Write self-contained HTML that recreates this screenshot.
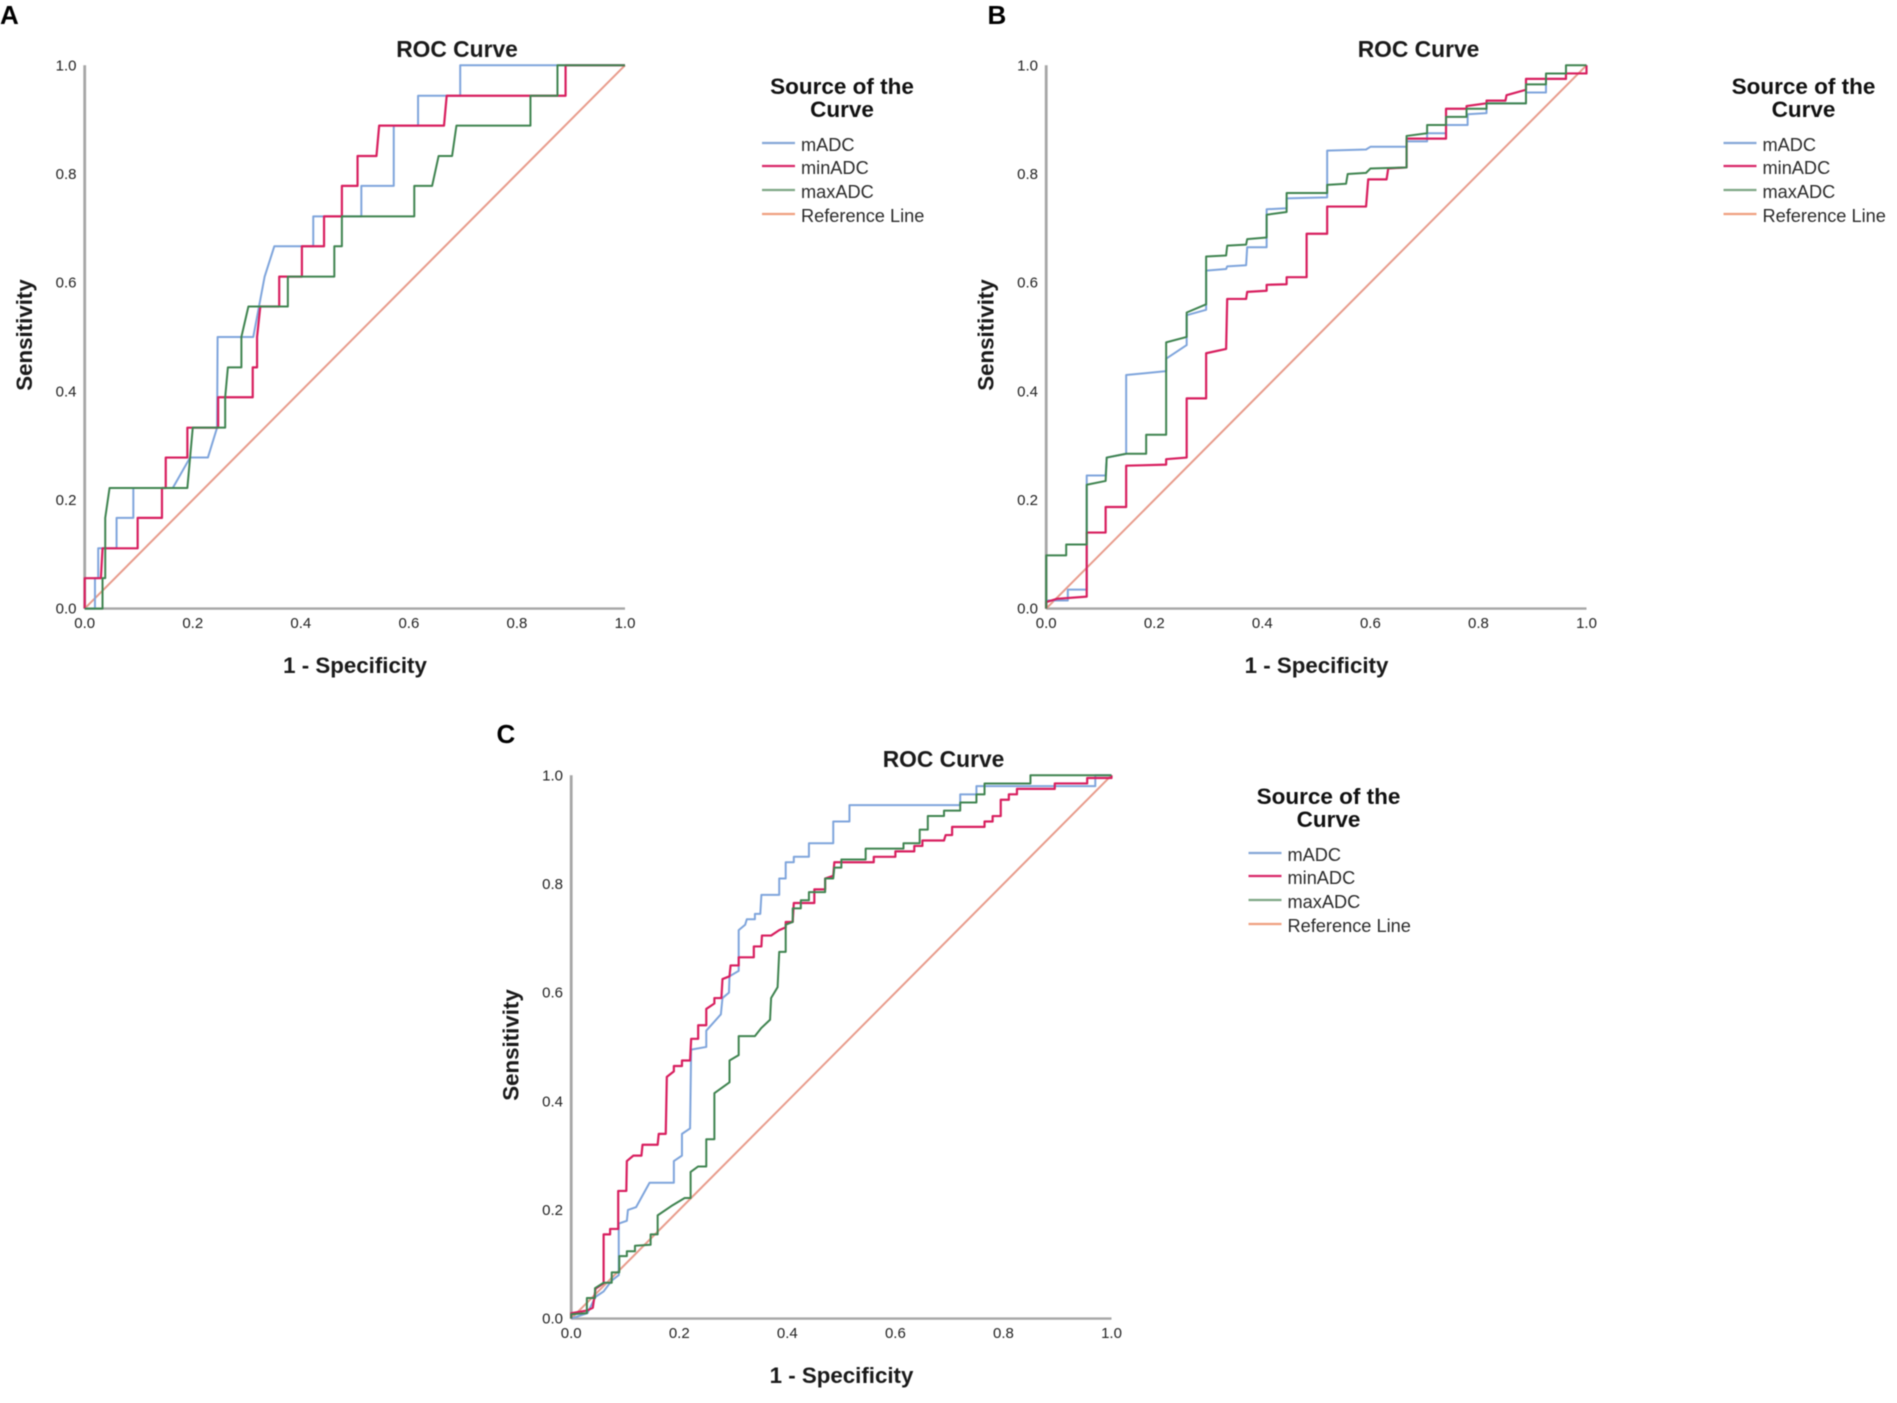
<!DOCTYPE html>
<html lang="en">
<head>
<meta charset="utf-8">
<title>ROC Curves</title>
<style>
  html, body { margin: 0; padding: 0; background: #fff; }
  #figure { display: block; width: 1897px; height: 1403px; filter: blur(0.55px); font-family: "Liberation Sans", sans-serif; }
  .panel-letter { font-size: 26px; font-weight: 700; fill: #000; }
  .chart-title { font-size: 22.8px; font-weight: 700; fill: #1a1a1a; text-anchor: middle; }
  .axis-title { font-size: 22.3px; font-weight: 700; fill: #1a1a1a; text-anchor: middle; }
  .legend-title { font-size: 22.5px; font-weight: 700; fill: #111; text-anchor: middle; }
  .legend-label { font-size: 18.2px; fill: #2b2b2b; }
  .tick-label { font-size: 15px; fill: #222; }
</style>
</head>
<body>
<svg id="figure" xmlns="http://www.w3.org/2000/svg" width="1897" height="1403" viewBox="0 0 1897 1403">
  <rect width="1897" height="1403" fill="#ffffff"/>

  <g id="panel-a">
    <text class="panel-letter" x="0" y="24">A</text>
    <text class="chart-title" x="457" y="57">ROC Curve</text>
    <text class="axis-title" x="355" y="673">1 - Specificity</text>
    <text class="axis-title" transform="translate(32,335) rotate(-90)">Sensitivity</text>
    <g>
      <text class="legend-title" x="842" y="94">Source of the</text>
      <text class="legend-title" x="842" y="117">Curve</text>
      <line x1="762" x2="795" y1="143" y2="143" stroke="#86a8d8" stroke-width="2.2"/>
      <text class="legend-label" x="801" y="151">mADC</text>
      <line x1="762" x2="795" y1="166" y2="166" stroke="#d9286a" stroke-width="2.2"/>
      <text class="legend-label" x="801" y="174">minADC</text>
      <line x1="762" x2="795" y1="190" y2="190" stroke="#7fa886" stroke-width="2.2"/>
      <text class="legend-label" x="801" y="198">maxADC</text>
      <line x1="762" x2="795" y1="214" y2="214" stroke="#f0a080" stroke-width="2.2"/>
      <text class="legend-label" x="801" y="222">Reference Line</text>
    </g>
  </g>

  <g id="panel-b" transform="translate(961.5,0)">
    <text class="panel-letter" x="26" y="24">B</text>
    <text class="chart-title" x="457" y="57">ROC Curve</text>
    <text class="axis-title" x="355" y="673">1 - Specificity</text>
    <text class="axis-title" transform="translate(32,335) rotate(-90)">Sensitivity</text>
    <g>
      <text class="legend-title" x="842" y="94">Source of the</text>
      <text class="legend-title" x="842" y="117">Curve</text>
      <line x1="762" x2="795" y1="143" y2="143" stroke="#86a8d8" stroke-width="2.2"/>
      <text class="legend-label" x="801" y="151">mADC</text>
      <line x1="762" x2="795" y1="166" y2="166" stroke="#d9286a" stroke-width="2.2"/>
      <text class="legend-label" x="801" y="174">minADC</text>
      <line x1="762" x2="795" y1="190" y2="190" stroke="#7fa886" stroke-width="2.2"/>
      <text class="legend-label" x="801" y="198">maxADC</text>
      <line x1="762" x2="795" y1="214" y2="214" stroke="#f0a080" stroke-width="2.2"/>
      <text class="legend-label" x="801" y="222">Reference Line</text>
    </g>
  </g>

  <g id="panel-c" transform="translate(486.5,710)">
    <text class="panel-letter" x="10" y="33">C</text>
    <text class="chart-title" x="457" y="57">ROC Curve</text>
    <text class="axis-title" x="355" y="673">1 - Specificity</text>
    <text class="axis-title" transform="translate(32,335) rotate(-90)">Sensitivity</text>
    <g>
      <text class="legend-title" x="842" y="94">Source of the</text>
      <text class="legend-title" x="842" y="117">Curve</text>
      <line x1="762" x2="795" y1="143" y2="143" stroke="#86a8d8" stroke-width="2.2"/>
      <text class="legend-label" x="801" y="151">mADC</text>
      <line x1="762" x2="795" y1="166" y2="166" stroke="#d9286a" stroke-width="2.2"/>
      <text class="legend-label" x="801" y="174">minADC</text>
      <line x1="762" x2="795" y1="190" y2="190" stroke="#7fa886" stroke-width="2.2"/>
      <text class="legend-label" x="801" y="198">maxADC</text>
      <line x1="762" x2="795" y1="214" y2="214" stroke="#f0a080" stroke-width="2.2"/>
      <text class="legend-label" x="801" y="222">Reference Line</text>
    </g>
  </g>
</svg>

<script>
const tickValues = [0, 0.2, 0.4, 0.6, 0.8, 1];
const tickLabels = ["0.0", "0.2", "0.4", "0.6", "0.8", "1.0"];
const referenceLine = [[0,0],[1,1]];

const panelAmADC = [[0,0],[.019,0],[.019,.056],[.025,.056],[.025,.111],[.059,.111],[.059,.167],[.09,.167],[.09,.222],[.163,.222],[.195,.278],[.228,.278],[.245,.333],[.246,.5],[.312,.5],[.333,.611],[.351,.667],[.423,.667],[.423,.722],[.512,.722],[.512,.778],[.572,.778],[.572,.889],[.617,.889],[.617,.944],[.695,.944],[.695,1],[1,1]];
const panelAminADC = [[0,0],[0,.056],[.03,.056],[.033,.111],[.098,.111],[.098,.167],[.143,.167],[.143,.222],[.15,.222],[.15,.278],[.19,.278],[.19,.333],[.247,.333],[.247,.389],[.311,.389],[.311,.444],[.319,.444],[.319,.5],[.325,.556],[.36,.556],[.36,.611],[.402,.611],[.402,.667],[.443,.667],[.443,.722],[.476,.722],[.476,.778],[.505,.778],[.505,.833],[.54,.833],[.545,.889],[.665,.889],[.67,.944],[.89,.944],[.89,1],[1,1]];
const panelAmaxADC = [[0,0],[.033,0],[.033,.056],[.038,.056],[.038,.167],[.046,.222],[.19,.222],[.2,.333],[.26,.333],[.26,.389],[.265,.444],[.29,.444],[.29,.5],[.303,.556],[.376,.556],[.376,.611],[.462,.611],[.462,.667],[.476,.667],[.476,.722],[.61,.722],[.61,.778],[.643,.778],[.655,.833],[.68,.833],[.688,.889],[.825,.889],[.825,.944],[.875,.944],[.875,1],[1,1]];

const panelBmADC = [[0,0],[0,.015],[.04,.015],[.04,.035],[.075,.035],[.075,.245],[.11,.245],[.112,.278],[.148,.285],[.148,.43],[.222,.437],[.222,.46],[.26,.485],[.26,.54],[.296,.55],[.296,.622],[.333,.625],[.335,.63],[.37,.632],[.372,.665],[.408,.665],[.408,.735],[.445,.737],[.445,.755],[.52,.757],[.52,.843],[.592,.845],[.6,.85],[.667,.85],[.667,.86],[.705,.86],[.705,.875],[.74,.875],[.74,.89],[.78,.89],[.78,.91],[.815,.912],[.815,.93],[.888,.93],[.888,.95],[.925,.95],[.925,.975],[.962,.975],[.962,.985],[1,.985],[1,1]];
const panelBminADC = [[0,0],[0,.012],[.02,.018],[.075,.022],[.075,.14],[.11,.14],[.11,.187],[.148,.187],[.148,.263],[.222,.265],[.222,.275],[.26,.278],[.26,.387],[.296,.387],[.296,.47],[.333,.478],[.335,.57],[.37,.57],[.372,.583],[.408,.585],[.408,.596],[.445,.597],[.445,.61],[.482,.61],[.482,.69],[.52,.69],[.52,.74],[.592,.74],[.596,.79],[.63,.79],[.633,.81],[.667,.812],[.667,.865],[.74,.865],[.74,.92],[.778,.92],[.778,.925],[.815,.93],[.815,.935],[.85,.935],[.852,.945],[.888,.955],[.888,.975],[.962,.975],[.962,.985],[1,.985],[1,1]];
const panelBmaxADC = [[0,0],[0,.098],[.037,.098],[.037,.118],[.075,.118],[.075,.228],[.11,.235],[.112,.278],[.148,.285],[.185,.285],[.185,.32],[.222,.32],[.222,.49],[.26,.5],[.26,.545],[.296,.56],[.296,.648],[.333,.65],[.335,.668],[.37,.67],[.372,.68],[.408,.683],[.408,.725],[.445,.73],[.445,.765],[.52,.765],[.52,.78],[.555,.782],[.558,.8],[.592,.802],[.6,.81],[.667,.812],[.667,.87],[.705,.875],[.705,.89],[.74,.89],[.74,.905],[.778,.905],[.778,.92],[.815,.92],[.815,.93],[.888,.93],[.888,.965],[.925,.965],[.925,.985],[.962,.985],[.962,1],[1,1]];

const panelCmADC = [[0,0],[.03,.01],[.045,.04],[.06,.05],[.075,.07],[.088,.08],[.088,.175],[.103,.18],[.105,.2],[.12,.205],[.145,.25],[.19,.25],[.19,.29],[.205,.3],[.205,.34],[.22,.35],[.222,.495],[.25,.5],[.25,.53],[.277,.56],[.28,.59],[.292,.6],[.293,.63],[.31,.64],[.31,.715],[.322,.725],[.325,.735],[.34,.735],[.34,.745],[.35,.745],[.352,.78],[.385,.78],[.385,.81],[.397,.81],[.397,.84],[.412,.84],[.412,.85],[.44,.85],[.44,.875],[.485,.875],[.485,.915],[.515,.915],[.515,.945],[.72,.945],[.72,.965],[.75,.965],[.75,.98],[.97,.98],[.97,1],[1,1]];
const panelCminADC = [[0,0],[0,.01],[.03,.015],[.04,.02],[.045,.055],[.06,.065],[.06,.155],[.072,.155],[.072,.165],[.087,.165],[.087,.235],[.102,.235],[.103,.29],[.115,.3],[.13,.3],[.132,.32],[.16,.32],[.162,.34],[.175,.34],[.177,.445],[.19,.455],[.19,.465],[.205,.465],[.205,.475],[.22,.475],[.222,.515],[.235,.515],[.235,.54],[.25,.54],[.25,.57],[.265,.58],[.265,.59],[.278,.59],[.28,.625],[.293,.63],[.295,.65],[.31,.65],[.31,.665],[.338,.665],[.338,.685],[.352,.685],[.353,.705],[.37,.705],[.385,.715],[.397,.72],[.397,.73],[.41,.73],[.412,.765],[.45,.765],[.45,.79],[.47,.79],[.47,.81],[.485,.815],[.487,.84],[.56,.84],[.56,.85],[.6,.85],[.6,.86],[.635,.86],[.635,.87],[.65,.87],[.65,.88],[.69,.88],[.693,.89],[.705,.89],[.705,.905],[.765,.905],[.765,.915],[.78,.915],[.78,.925],[.795,.925],[.795,.955],[.81,.955],[.81,.965],[.825,.965],[.825,.975],[.895,.975],[.895,.985],[.955,.985],[.955,.995],[1,.995],[1,1]];
const panelCmaxADC = [[0,0],[0,.008],[.029,.01],[.029,.038],[.044,.038],[.044,.056],[.06,.066],[.075,.066],[.075,.085],[.089,.085],[.089,.115],[.103,.115],[.103,.124],[.118,.124],[.118,.134],[.147,.136],[.147,.155],[.16,.155],[.16,.19],[.185,.207],[.21,.222],[.221,.222],[.221,.27],[.235,.28],[.25,.28],[.25,.33],[.265,.33],[.265,.415],[.293,.435],[.293,.475],[.31,.485],[.31,.52],[.34,.52],[.352,.535],[.368,.55],[.37,.59],[.382,.61],[.385,.675],[.397,.675],[.397,.725],[.41,.73],[.41,.755],[.425,.755],[.425,.77],[.44,.77],[.44,.785],[.47,.785],[.47,.81],[.485,.81],[.487,.83],[.5,.83],[.5,.845],[.545,.845],[.545,.865],[.615,.865],[.615,.875],[.645,.875],[.645,.9],[.66,.9],[.66,.925],[.69,.925],[.69,.935],[.72,.935],[.72,.95],[.75,.95],[.75,.965],[.765,.965],[.765,.985],[.85,.985],[.85,1],[1,1]];

const SVG_NS = "http://www.w3.org/2000/svg";
const plotLeft = 84.7, plotWidth = 540.3, plotBottom = 608.6, plotHeight = 543.3;
function xScale(v) { return plotLeft + v * plotWidth; }
function yScale(v) { return plotBottom - v * plotHeight; }

function drawAxes(group) {
  const yAxis = document.createElementNS(SVG_NS, "line");
  yAxis.setAttribute("x1", xScale(0));
  yAxis.setAttribute("x2", xScale(0));
  yAxis.setAttribute("y1", yScale(1));
  yAxis.setAttribute("y2", yScale(0));
  yAxis.setAttribute("stroke", "#a6a6a6");
  yAxis.setAttribute("stroke-width", "2.8");
  
  
  group.appendChild(yAxis);

  const xAxis = document.createElementNS(SVG_NS, "line");
  xAxis.setAttribute("x1", xScale(0));
  xAxis.setAttribute("x2", xScale(1));
  xAxis.setAttribute("y1", yScale(0));
  xAxis.setAttribute("y2", yScale(0));
  xAxis.setAttribute("stroke", "#a6a6a6");
  xAxis.setAttribute("stroke-width", "2.4");
  
  
  group.appendChild(xAxis);

  tickValues.forEach(function (value, i) {
    const xLabel = document.createElementNS(SVG_NS, "text");
    xLabel.setAttribute("class", "tick-label");
    xLabel.setAttribute("x", xScale(value));
    xLabel.setAttribute("y", 628);
    xLabel.setAttribute("text-anchor", "middle");
    
    
    xLabel.textContent = tickLabels[i];
    group.appendChild(xLabel);

    const yLabel = document.createElementNS(SVG_NS, "text");
    yLabel.setAttribute("class", "tick-label");
    yLabel.setAttribute("x", 76.5);
    yLabel.setAttribute("y", yScale(value) + 5);
    yLabel.setAttribute("text-anchor", "end");
    
    
    yLabel.textContent = tickLabels[i];
    group.appendChild(yLabel);
  });
}

function drawCurve(group, points, color, width, name) {
  const line = document.createElementNS(SVG_NS, "polyline");
  line.setAttribute("points", points.map(function (p) {
    return xScale(p[0]).toFixed(2) + "," + yScale(p[1]).toFixed(2);
  }).join(" "));
  line.setAttribute("fill", "none");
  line.setAttribute("stroke", color);
  line.setAttribute("stroke-width", width);
  line.setAttribute("stroke-linejoin", "round");
  
  
  group.appendChild(line);
}

function drawPanel(id, mADC, minADC, maxADC) {
  const group = document.getElementById(id);
  drawAxes(group);
  drawCurve(group, referenceLine, "#e89c8c", 2, "reference-line");
  drawCurve(group, mADC, "#7fa5dc", 2, "curve-madc");
  drawCurve(group, minADC, "#d81f5f", 2.2, "curve-minadc");
  drawCurve(group, maxADC, "#3f8450", 2, "curve-maxadc");
}

drawPanel("panel-a", panelAmADC, panelAminADC, panelAmaxADC);
drawPanel("panel-b", panelBmADC, panelBminADC, panelBmaxADC);
drawPanel("panel-c", panelCmADC, panelCminADC, panelCmaxADC);
</script>
</body>
</html>
